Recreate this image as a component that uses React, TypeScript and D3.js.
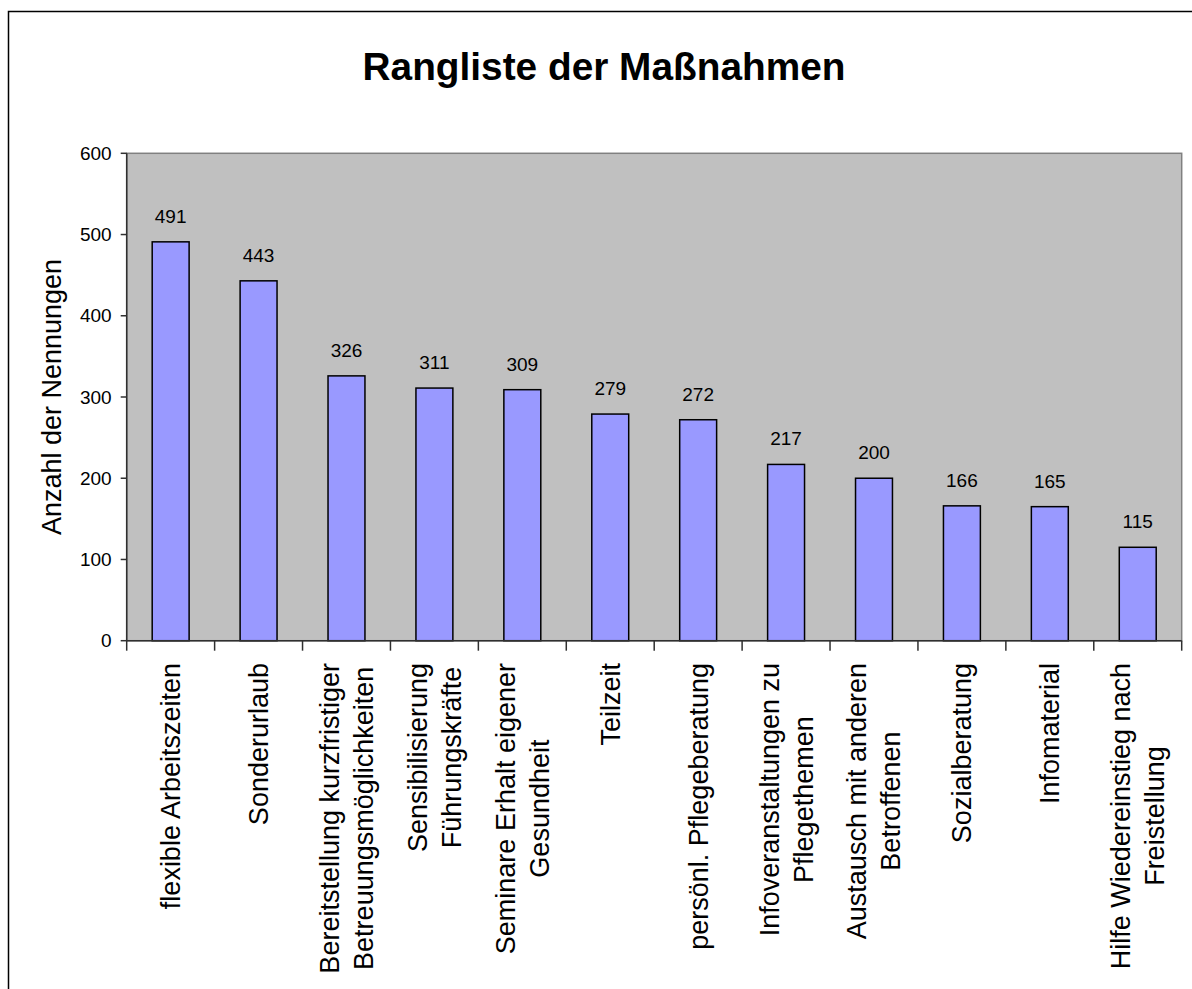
import React, { useEffect, useRef } from "react";
import * as d3 from "d3";

const categories: string[][] = [
  ["flexible Arbeitszeiten"],
  ["Sonderurlaub"],
  ["Bereitstellung kurzfristiger", "Betreuungsmöglichkeiten"],
  ["Sensibilisierung", "Führungskräfte"],
  ["Seminare Erhalt eigener", "Gesundheit"],
  ["Teilzeit"],
  ["persönl. Pflegeberatung"],
  ["Infoveranstaltungen zu", "Pflegethemen"],
  ["Austausch mit anderen", "Betroffenen"],
  ["Sozialberatung"],
  ["Infomaterial"],
  ["Hilfe Wiedereinstieg nach", "Freistellung"],
];
const values: number[] = [491, 443, 326, 311, 309, 279, 272, 217, 200, 166, 165, 115];
const yTicks: number[] = [0, 100, 200, 300, 400, 500, 600];
const title = "Rangliste der Maßnahmen";
const yAxisTitle = "Anzahl der Nennungen";

const W = 1192;
const H = 989;
const FONT = "'Liberation Sans', Arial, sans-serif";

export default function App() {
  const ref = useRef<SVGSVGElement | null>(null);

  useEffect(() => {
    const svg = d3.select(ref.current);
    svg.selectAll("*").remove();

    const plot = { left: 126.7, right: 1181.7, top: 153.3, bottom: 640.7 };
    const x = d3.scaleBand<number>().domain(d3.range(values.length)).range([plot.left, plot.right]).paddingInner(0).paddingOuter(0);
    const y = d3.scaleLinear().domain([0, 600]).range([plot.bottom, plot.top]);

    // outer frame
    svg.append("rect")
      .attr("x", 8.5).attr("y", 11.5).attr("width", 1300).attr("height", 1100)
      .attr("fill", "#fff").attr("stroke", "#000").attr("stroke-width", 1.5);

    // title
    svg.append("text")
      .attr("x", 604).attr("y", 80)
      .attr("text-anchor", "middle")
      .attr("font-family", FONT).attr("font-weight", "bold").attr("font-size", 38.8)
      .attr("fill", "#000")
      .text(title);

    // plot area
    svg.append("rect")
      .attr("x", plot.left).attr("y", plot.top)
      .attr("width", plot.right - plot.left).attr("height", plot.bottom - plot.top)
      .attr("fill", "#C0C0C0").attr("stroke", "#808080").attr("stroke-width", 1.5);

    // bars
    const bw = x.bandwidth() * 0.42;
    svg.append("g").selectAll("rect").data(values).join("rect")
      .attr("x", (_d, i) => (x(i) as number) + (x.bandwidth() - bw) / 2)
      .attr("y", (d) => y(d))
      .attr("width", bw)
      .attr("height", (d) => y(0) - y(d))
      .attr("fill", "#9999FF").attr("stroke", "#000").attr("stroke-width", 1.5);

    // value labels
    svg.append("g").selectAll("text").data(values).join("text")
      .attr("x", (_d, i) => (x(i) as number) + x.bandwidth() / 2)
      .attr("y", (d) => y(d) - 19)
      .attr("text-anchor", "middle")
      .attr("font-family", FONT).attr("font-size", 19).attr("fill", "#000")
      .text((d) => String(d));

    // y axis line
    svg.append("line")
      .attr("x1", plot.left).attr("x2", plot.left).attr("y1", plot.top).attr("y2", plot.bottom)
      .attr("stroke", "#303030").attr("stroke-width", 1.5);
    // x axis line
    svg.append("line")
      .attr("x1", plot.left).attr("x2", plot.right).attr("y1", plot.bottom).attr("y2", plot.bottom)
      .attr("stroke", "#303030").attr("stroke-width", 1.5);

    // y ticks
    const yt = svg.append("g");
    yt.selectAll("line").data(yTicks).join("line")
      .attr("x1", plot.left - 6).attr("x2", plot.left)
      .attr("y1", (d) => y(d)).attr("y2", (d) => y(d))
      .attr("stroke", "#303030").attr("stroke-width", 1.5);
    yt.selectAll("text").data(yTicks).join("text")
      .attr("x", plot.left - 15)
      .attr("y", (d) => y(d))
      .attr("dy", "0.35em")
      .attr("text-anchor", "end")
      .attr("font-family", FONT).attr("font-size", 19).attr("fill", "#000")
      .text((d) => String(d));

    // x ticks at band boundaries
    const bounds = d3.range(values.length + 1).map((i) => plot.left + i * x.step());
    svg.append("g").selectAll("line").data(bounds).join("line")
      .attr("x1", (d) => d).attr("x2", (d) => d)
      .attr("y1", plot.bottom).attr("y2", plot.bottom + 10)
      .attr("stroke", "#303030").attr("stroke-width", 1.5);

    // x labels (rotated, centered lines)
    const lineH = 34;
    const labelTop = 663;
    categories.forEach((lines, i) => {
      const cx = (x(i) as number) + x.bandwidth() / 2;
      const g = svg.append("g").attr("transform", `translate(${cx},${labelTop}) rotate(-90)`);
      const t = g.append("text")
        .attr("font-family", FONT).attr("font-size", 27).attr("fill", "#000")
        .attr("text-anchor", "middle");
      const n = lines.length;
      const spans = lines.map((ln, j) =>
        t.append("tspan")
          .attr("x", 0)
          .attr("y", (j - (n - 1) / 2) * lineH)
          .attr("dy", "0.35em")
          .text(ln)
      );
      let maxLen = 0;
      spans.forEach((s) => {
        const node = s.node() as SVGTSpanElement;
        maxLen = Math.max(maxLen, node.getComputedTextLength());
      });
      spans.forEach((s) => s.attr("x", -maxLen / 2));
    });

    // y axis title
    svg.append("text")
      .attr("transform", `translate(52,397) rotate(-90)`)
      .attr("text-anchor", "middle")
      .attr("dy", "0.35em")
      .attr("font-family", FONT).attr("font-size", 27).attr("fill", "#000")
      .text(yAxisTitle);
  }, []);

  return (
    <div style={{ position: "absolute", left: 0, top: 0 }}>
      <svg ref={ref} width={W} height={H} style={{ display: "block", background: "#fff" }} />
    </div>
  );
}
